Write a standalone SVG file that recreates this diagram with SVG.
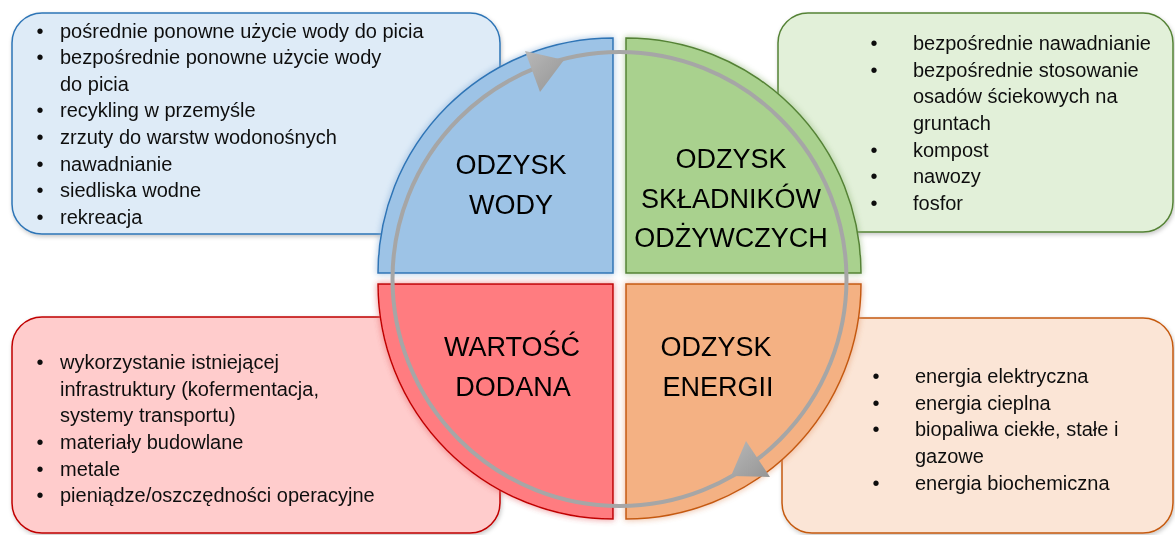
<svg xmlns="http://www.w3.org/2000/svg" width="1175" height="535" viewBox="0 0 1175 535">
<defs>
<style>
.box{stroke-width:1.5}
.q{stroke-width:1.5}
.t{font-family:"Liberation Sans",Arial,sans-serif;font-size:20px;fill:#111}
.b{font-family:"Liberation Sans",Arial,sans-serif;font-size:20px;fill:#111;text-anchor:middle}
.h{font-family:"Liberation Sans",Arial,sans-serif;font-size:27px;fill:#000;text-anchor:middle}
.ring{fill:none;stroke:#a6a6a6;stroke-width:4}
.ah{fill:url(#ag)}
</style>
<filter id="sh" x="-10%" y="-10%" width="120%" height="125%">
<feDropShadow dx="1" dy="2" stdDeviation="2" flood-color="#000" flood-opacity="0.22"/>
</filter>
<filter id="gl" x="-10%" y="-10%" width="120%" height="120%">
<feGaussianBlur in="SourceGraphic" stdDeviation="3" result="b"/>
<feComponentTransfer in="b" result="b2"><feFuncA type="linear" slope="0.7"/></feComponentTransfer>
<feMerge><feMergeNode in="b2"/><feMergeNode in="SourceGraphic"/></feMerge>
</filter>
<linearGradient id="ag" x1="0" y1="0" x2="1" y2="1">
<stop offset="0" stop-color="#b8b8b8"/>
<stop offset="1" stop-color="#959595"/>
</linearGradient>
</defs>
<rect width="1175" height="535" fill="#fff"/>

<g id="box-woda" filter="url(#sh)">
<rect class="box" x="12" y="13" width="488" height="221" rx="30" fill="#deebf7" stroke="#2e75b6"/>
<text class="b" x="40" y="37.5">•</text><text class="t" x="60" y="37.5">pośrednie ponowne użycie wody do picia</text>
<text class="b" x="40" y="64">•</text><text class="t" x="60" y="64">bezpośrednie ponowne użycie wody</text>
<text class="t" x="60" y="90.7">do picia</text>
<text class="b" x="40" y="117.3">•</text><text class="t" x="60" y="117.3">recykling w przemyśle</text>
<text class="b" x="40" y="144">•</text><text class="t" x="60" y="144">zrzuty do warstw wodonośnych</text>
<text class="b" x="40" y="170.7">•</text><text class="t" x="60" y="170.7">nawadnianie</text>
<text class="b" x="40" y="197.3">•</text><text class="t" x="60" y="197.3">siedliska wodne</text>
<text class="b" x="40" y="224">•</text><text class="t" x="60" y="224">rekreacja</text>
</g>

<g id="box-skladniki" filter="url(#sh)">
<rect class="box" x="778" y="13" width="395" height="219" rx="30" fill="#e2f0d9" stroke="#548235"/>
<text class="b" x="874" y="50">•</text><text class="t" x="913" y="50">bezpośrednie nawadnianie</text>
<text class="b" x="874" y="76.7">•</text><text class="t" x="913" y="76.7">bezpośrednie stosowanie</text>
<text class="t" x="913" y="103.3">osadów ściekowych na</text>
<text class="t" x="913" y="130">gruntach</text>
<text class="b" x="874" y="156.7">•</text><text class="t" x="913" y="156.7">kompost</text>
<text class="b" x="874" y="183.3">•</text><text class="t" x="913" y="183.3">nawozy</text>
<text class="b" x="874" y="210">•</text><text class="t" x="913" y="210">fosfor</text>
</g>

<g id="box-wartosc" filter="url(#sh)">
<rect class="box" x="12" y="317" width="488" height="216" rx="30" fill="#ffcccc" stroke="#c00000"/>
<text class="b" x="40" y="369">•</text><text class="t" x="60" y="369">wykorzystanie istniejącej</text>
<text class="t" x="60" y="395.7">infrastruktury (kofermentacja,</text>
<text class="t" x="60" y="422.3">systemy transportu)</text>
<text class="b" x="40" y="449">•</text><text class="t" x="60" y="449">materiały budowlane</text>
<text class="b" x="40" y="475.7">•</text><text class="t" x="60" y="475.7">metale</text>
<text class="b" x="40" y="502.3">•</text><text class="t" x="60" y="502.3">pieniądze/oszczędności operacyjne</text>
</g>

<g id="box-energia" filter="url(#sh)">
<rect class="box" x="782" y="318" width="391" height="215" rx="30" fill="#fbe5d6" stroke="#c55a11"/>
<text class="b" x="876" y="383">•</text><text class="t" x="915" y="383">energia elektryczna</text>
<text class="b" x="876" y="409.7">•</text><text class="t" x="915" y="409.7">energia cieplna</text>
<text class="b" x="876" y="436.3">•</text><text class="t" x="915" y="436.3">biopaliwa ciekłe, stałe i</text>
<text class="t" x="915" y="463">gazowe</text>
<text class="b" x="876" y="489.7">•</text><text class="t" x="915" y="489.7">energia biochemiczna</text>
</g>

<g id="q-woda" filter="url(#gl)">
<path class="q" d="M613,273 L378,273 A235,235 0 0 1 613,38 Z" fill="#9dc3e6" stroke="#2e75b6"/>
<text class="h" x="511" y="174">ODZYSK</text>
<text class="h" x="511" y="214">WODY</text>
</g>

<g id="q-skladniki" filter="url(#gl)">
<path class="q" d="M626,273 L626,38 A235,235 0 0 1 861,273 Z" fill="#a9d18e" stroke="#548235"/>
<text class="h" x="731" y="168">ODZYSK</text>
<text class="h" x="731" y="208">SKŁADNIKÓW</text>
<text class="h" x="731" y="247">ODŻYWCZYCH</text>
</g>

<g id="q-wartosc" filter="url(#gl)">
<path class="q" d="M613,284 L378,284 A235,235 0 0 0 613,519 Z" fill="#ff7c80" stroke="#c00000"/>
<text class="h" x="512" y="356">WARTOŚĆ</text>
<text class="h" x="513" y="396">DODANA</text>
</g>

<g id="q-energia" filter="url(#gl)">
<path class="q" d="M626,284 L861,284 A235,235 0 0 1 626,519 Z" fill="#f4b183" stroke="#c55a11"/>
<text class="h" x="716" y="356">ODZYSK</text>
<text class="h" x="718" y="396">ENERGII</text>
</g>

<g id="connectors">
<circle class="ring" cx="619.5" cy="279" r="227"/>
<polygon class="ah" points="564,60 525,51 540,92"/>
<polygon class="ah" points="731,476 746,441 770,477"/>
</g>
</svg>
